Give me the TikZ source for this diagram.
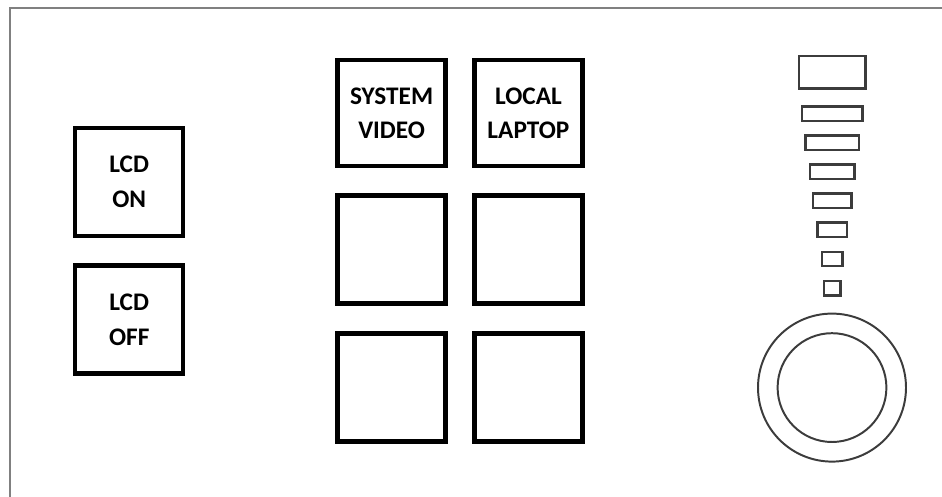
\documentclass[tikz,border=0pt]{standalone}
\usepackage{fontspec}
\setmainfont{Carlito}
\usepackage{tikz}
\usepackage{xcolor}
\usetikzlibrary{shapes,positioning}
\definecolor{panelframe}{RGB}{128,128,128}
\definecolor{knobgray}{RGB}{60,60,60}
\tikzset{
    button/.style={rectangle, draw=black, line width=0.11cm, minimum width=2.7cm, minimum height=2.7cm,
        align=center, font=\fontsize{18pt}{24.5pt}\selectfont\bfseries, inner sep=0pt},
    volbar/.style={rectangle, draw=knobgray, line width=1.8pt, minimum height=0.36cm, inner sep=0pt}
}

\begin{document}
\begin{tikzpicture}
    \clip (0,0) rectangle (23.55,-12.425);
    \begin{scope}
        % Panel outline
        \draw[panelframe, line width=1.7pt] (0.25,-0.2) rectangle (24,-13);

        % LCD power buttons
        \node[button] (lcdon) at (3.23,-4.55) {LCD\\ON};
        \node[button] (lcdoff) at (3.23,-7.99) {LCD\\OFF};

        % Source selection buttons
        \node[button, minimum height=2.65cm] (sysvideo) at (9.79,-2.83) {SYSTEM\\VIDEO};
        \node[button, minimum height=2.65cm] (laptop) at (13.21,-2.83) {LOCAL\\LAPTOP};
        \node[button] (blankA) at (9.79,-6.24) {};
        \node[button] (blankB) at (13.21,-6.24) {};
        \node[button] (blankC) at (9.79,-9.69) {};
        \node[button] (blankD) at (13.21,-9.69) {};

        % Volume level bars
        \node[volbar, minimum width=1.66cm, minimum height=0.81cm] (bar0) at (20.81,-1.81) {};
        \foreach \w [count=\i] in {1.51,1.34,1.11,0.96,0.74,0.51,0.41} {
            \node[volbar, minimum width=\w cm] (bar\i) at (20.81,{-2.84-0.727*(\i-1)}) {};
        }

        % Volume knob
        \coordinate (knob) at (20.80,-9.69);
        \draw[knobgray, line width=1.4pt] (knob) circle[radius=1.85cm];
        \draw[knobgray, line width=1.4pt] (knob) circle[radius=1.36cm];
    \end{scope}
\end{tikzpicture}
\end{document}
